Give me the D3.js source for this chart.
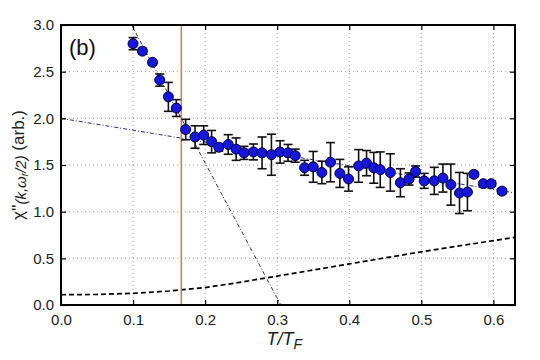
<!DOCTYPE html>
<html><head><meta charset="utf-8">
<script src="https://cdn.jsdelivr.net/npm/d3@7"></script>
<style>body{margin:0;background:#fff}svg{display:block}text{font-family:"Liberation Sans",Arial,sans-serif}</style>
</head><body>
<svg id="c" width="540" height="360"></svg>
<script>
const T = [0.100,0.113,0.127,0.137,0.149,0.160,0.173,0.186,0.198,0.209,0.219,0.232,0.243,0.254,0.267,0.279,0.292,0.304,0.315,0.325,0.338,0.350,0.362,0.374,0.387,0.399,0.413,0.424,0.434,0.443,0.457,0.471,0.483,0.492,0.504,0.518,0.530,0.541,0.553,0.564,0.573,0.586,0.597,0.612];
const chi = [2.80,2.72,2.60,2.41,2.23,2.11,1.88,1.80,1.82,1.75,1.69,1.72,1.67,1.63,1.64,1.63,1.61,1.64,1.63,1.60,1.47,1.48,1.42,1.53,1.41,1.35,1.49,1.52,1.47,1.45,1.42,1.31,1.35,1.43,1.33,1.33,1.36,1.29,1.20,1.21,1.40,1.30,1.30,1.22];
const err = [0.065,0.03,0.03,0.065,0.155,0.09,0.11,0.12,0.10,0.12,0.04,0.105,0.12,0.07,0.085,0.17,0.22,0.12,0.09,0.07,0.08,0.165,0.12,0.21,0.15,0.13,0.175,0.135,0.165,0.19,0.20,0.15,0.065,0.06,0.08,0.145,0.15,0.22,0.22,0.20,0.03,0.03,0.03,0.03];
const fitLowX = [0, 0.63], fitLowY = [2.0, 1.2];
const fitSteepX = [0.098, 0.305], fitSteepY = [3.0, 0.0];
const dashX = [0,0.05,0.1,0.15,0.2,0.25,0.3,0.35,0.4,0.45,0.5,0.55,0.6,0.63];
const dashY = [0.11,0.113,0.125,0.15,0.187,0.245,0.31,0.375,0.44,0.505,0.57,0.63,0.69,0.725];
const Tc = [0.167];
const xTicks = [0,0.1,0.2,0.3,0.4,0.5,0.6];
const yTicks = [0,0.5,1.0,1.5,2.0,2.5,3.0];

const svg = d3.select("#c");
const L=61,R=515,Tp=25,B=305;
const x = d3.scaleLinear().domain([0,0.63]).range([L,R]);
const y = d3.scaleLinear().domain([0,3]).range([B,Tp]);

svg.append("defs").append("clipPath").attr("id","clip").append("rect")
  .attr("x",L).attr("y",Tp).attr("width",R-L).attr("height",B-Tp);

const g = svg.append("g");
g.selectAll(".gx").data(xTicks.slice(1)).enter().append("line")
  .attr("x1",d=>x(d)).attr("x2",d=>x(d)).attr("y1",Tp).attr("y2",B)
  .attr("stroke","#999").attr("stroke-width",1).attr("stroke-dasharray","1,3");
g.selectAll(".gy").data(yTicks.slice(1,-1)).enter().append("line")
  .attr("y1",d=>y(d)).attr("y2",d=>y(d)).attr("x1",L).attr("x2",R)
  .attr("stroke","#999").attr("stroke-width",1).attr("stroke-dasharray","1,3");

const pl = svg.append("g").attr("clip-path","url(#clip)");
const line = d3.line().x(d=>x(d[0])).y(d=>y(d[1]));
pl.append("path").datum(dashX.map((d,i)=>[d,dashY[i]])).attr("d",line)
  .attr("fill","none").attr("stroke","#000").attr("stroke-width",1.7).attr("stroke-dasharray","5,3");
pl.append("path").datum(fitLowX.map((d,i)=>[d,fitLowY[i]])).attr("d",line)
  .attr("fill","none").attr("stroke","#2b2b8a").attr("stroke-width",1).attr("stroke-dasharray","4,2,1,2");
pl.append("path").datum(fitSteepX.map((d,i)=>[d,fitSteepY[i]])).attr("d",line)
  .attr("fill","none").attr("stroke","#2b2b8a").attr("stroke-width",1).attr("stroke-dasharray","4,2,1,2");
pl.selectAll(".tc").data(Tc).enter().append("line")
  .attr("x1",d=>x(d)).attr("x2",d=>x(d)).attr("y1",Tp).attr("y2",B)
  .attr("stroke","#c47e4e").attr("stroke-width",1.5);

const eb = svg.append("g").attr("stroke","#111").attr("stroke-width",1.6);
T.forEach((t,i)=>{
  const xp=x(t), y1=y(chi[i]+err[i]), y2=y(chi[i]-err[i]);
  eb.append("line").attr("x1",xp).attr("x2",xp).attr("y1",y1).attr("y2",y2);
  eb.append("line").attr("x1",xp-4.5).attr("x2",xp+4.5).attr("y1",y1).attr("y2",y1);
  eb.append("line").attr("x1",xp-4.5).attr("x2",xp+4.5).attr("y1",y2).attr("y2",y2);
});
svg.append("g").selectAll("circle").data(T).enter().append("circle")
  .attr("cx",d=>x(d)).attr("cy",(d,i)=>y(chi[i])).attr("r",5)
  .attr("fill","#1616dc").attr("stroke","#000040").attr("stroke-width",1);

svg.append("rect").attr("x",L).attr("y",Tp).attr("width",R-L).attr("height",B-Tp)
  .attr("fill","none").attr("stroke","#000").attr("stroke-width",2);
const xa = d3.axisBottom(x).tickValues(xTicks).tickSize(-5).tickPadding(9).tickFormat(d3.format(".1f"));
const ya = d3.axisLeft(y).tickValues(yTicks).tickSize(-5).tickPadding(7).tickFormat(d3.format(".1f"));
const xg = svg.append("g").attr("transform",`translate(0,${B})`).call(xa);
const yg = svg.append("g").attr("transform",`translate(${L},0)`).call(ya);
const yr = svg.append("g").attr("transform",`translate(${R},0)`).call(d3.axisRight(y).tickValues(yTicks).tickSize(-5).tickFormat(""));
const xt = svg.append("g").attr("transform",`translate(0,${Tp})`).call(d3.axisTop(x).tickValues(xTicks).tickSize(-5).tickFormat(""));
[xg,yg,yr,xt].forEach(a=>{a.select(".domain").remove();a.selectAll("line").attr("stroke","#000").attr("stroke-width",1.2);
  a.selectAll("text").attr("font-size",15).attr("fill","#222").style("font-family","Liberation Sans, Arial, sans-serif");});

svg.append("text").attr("x",69).attr("y",55).attr("font-size",22).attr("fill","#111").text("(b)");
const xl = svg.append("text").attr("x",x(0.31)).attr("y",345).attr("text-anchor","middle").attr("font-size",18).attr("fill","#222").attr("font-style","italic");
xl.append("tspan").text("T/T");
xl.append("tspan").attr("font-size",14).attr("dy",4).text("F");
const yl = svg.append("text").attr("transform",`translate(24,${(Tp+B)/2}) rotate(-90)`).attr("text-anchor","middle").attr("font-size",17).attr("fill","#222");
yl.append("tspan").text("χ''");
yl.append("tspan").attr("font-size",15).attr("dy",2).attr("font-style","italic").text("(k,ω");
yl.append("tspan").attr("font-size",10).attr("dy",2).attr("font-style","italic").text("r");
yl.append("tspan").attr("font-size",15).attr("dy",-2).attr("font-style","italic").text("/2)");
yl.append("tspan").attr("dy",-2).text(" (arb.)");
</script>
</body></html>
